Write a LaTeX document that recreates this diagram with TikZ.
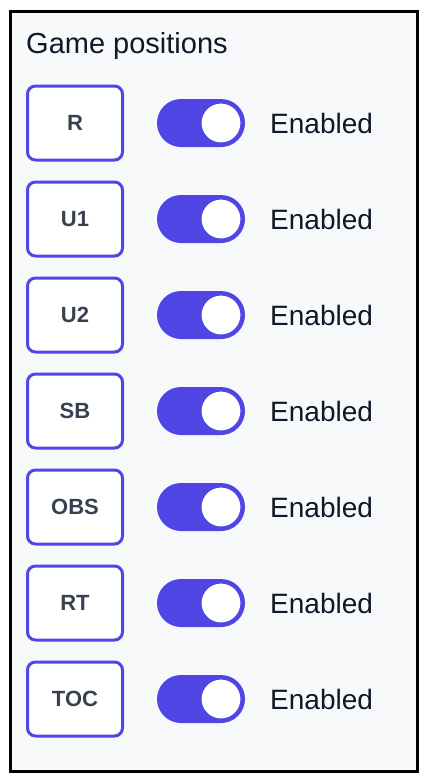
\documentclass[tikz,border=0pt]{standalone}
\usepackage{fontspec}
\setmainfont{Liberation Sans}
\definecolor{indigo}{RGB}{79,70,229}
\definecolor{panelbg}{RGB}{248,249,251}
\definecolor{slate}{RGB}{55,65,81}
\definecolor{ink}{RGB}{17,24,39}
\tikzset{
  posbox/.style={draw=indigo, line width=3pt, fill=white, rounded corners=8pt,
    minimum width=95pt, minimum height=74pt, inner sep=0pt,
    text=slate, font=\fontsize{22}{26}\selectfont\bfseries},
  switchtrack/.style={fill=indigo, rounded corners=24pt,
    minimum width=88pt, minimum height=48pt, inner sep=0pt},
  switchknob/.style={circle, fill=white, draw=indigo, line width=1pt,
    minimum size=40pt, inner sep=0pt},
  statetext/.style={anchor=base west, inner sep=0pt, text=ink,
    font=\fontsize{28}{34}\selectfont},
}
\begin{document}
\begin{tikzpicture}[x=1pt,y=-1pt]
  \useasboundingbox (0,0) rectangle (428,782);

  % Drawing the panel
  \draw [line width=3pt, fill=panelbg] (10.5,11.5) rectangle (417.5,771);
  \node (title) [anchor=base west, inner sep=0pt, text=ink,
    font=\fontsize{29}{35}\selectfont] at (26,53) {Game positions};

  % Drawing one row per position
  \foreach \lbl [count=\i] in {R,U1,U2,SB,OBS,RT,TOC} {
    \pgfmathsetmacro{\ymid}{123+96*(\i-1)}
    \node (pos-\i) [posbox] at (75,\ymid) {\lbl};
    \node (track-\i) [switchtrack] at (201,\ymid) {};
    \node (knob-\i) [switchknob] at (221,\ymid) {};
    \node (state-\i) [statetext] at (270,\ymid+10) {Enabled};
  }
\end{tikzpicture}
\end{document}
